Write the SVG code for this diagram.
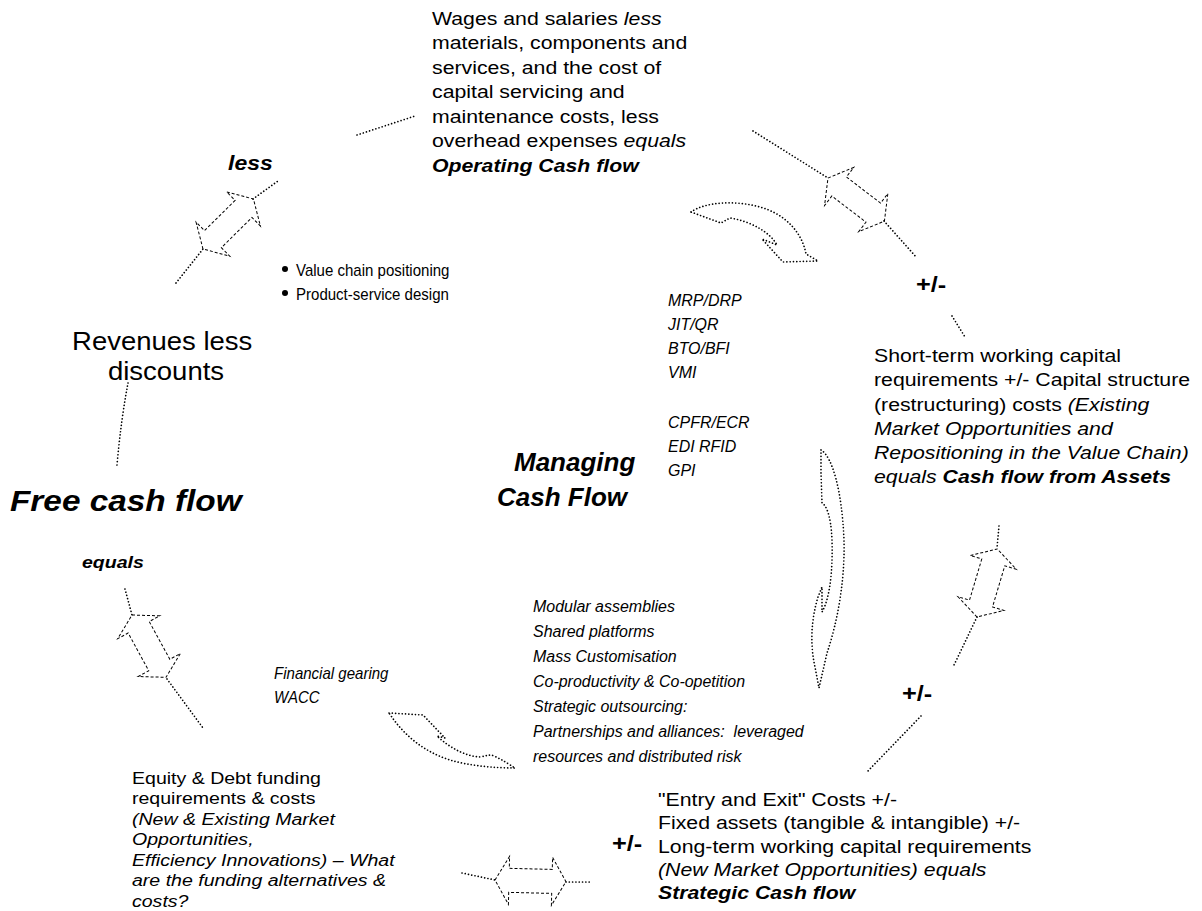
<svg xmlns="http://www.w3.org/2000/svg" width="1202" height="911" viewBox="0 0 1202 911">
  <defs>
    <style>
      .s { font-family: "Liberation Sans", Arial, sans-serif; fill: #000; }
      .i { font-style: italic; }
      .b { font-weight: bold; }
      .dot { fill: none; stroke: #000; stroke-width: 1.7; stroke-linecap: round; stroke-dasharray: 0.01 3.3; }
      .dash { fill: none; stroke: #000; stroke-width: 1; stroke-dasharray: 3 2; }
    </style>
    <!-- double-headed block arrow, tip to tip along +x -->
    <path id="dbl" d="M0,0 L14,-24 L14,-12 L57,-12 L57,-24 L71,0 L57,24 L57,12 L14,12 L14,24 Z"/>
  </defs>
  <rect width="1202" height="911" fill="#fff"/>

  <!-- connectors -->
  <g id="connectors">
    <path class="dot" d="M357,135 L415,116"/>
    <path class="dot" d="M176,283 L203,249"/>
    <path class="dot" d="M253,199 L278,181"/>
    <use href="#dbl" class="dash" transform="translate(203,249) rotate(-44.7)"/>

    <path class="dot" d="M753,131 L828,178"/>
    <use href="#dbl" class="dash" transform="translate(828,178) rotate(37.4)"/>
    <path class="dot" d="M884,221 L917,258"/>
    <path class="dot" d="M952,316 L965,337"/>

    <path class="dot" d="M999,526 L997,548"/>
    <use href="#dbl" class="dash" transform="translate(977,617) rotate(-73.4)"/>
    <path class="dot" d="M977,617 L953,667"/>
    <path class="dot" d="M921,716 L866,773"/>

    <path class="dot" d="M462,873 L495,880"/>
    <use href="#dbl" class="dash" transform="translate(495,880) rotate(1.4)"/>
    <path class="dot" d="M566,882 L590,882"/>

    <path class="dot" d="M128,383 Q121,420 117,465"/>
    <path class="dot" d="M125,589 L132,615"/>
    <use href="#dbl" class="dash" transform="translate(132,615) rotate(61.4)"/>
    <path class="dot" d="M167,679 L203,728"/>

    <!-- curved block arrows -->
    <path class="dot" d="M691,212 C705,202 735,200 760,207 C785,214 802,232 806,254 L818,261 L783,262 L762,239 L777,245 C770,232 750,221 730,218 L721,223 Z"/>
    <path class="dot" d="M821,450 C832,456 842,490 844,540 C845,580 838,620 827,653 L819,688 L815,667 C810,645 811,620 818,597 L822,587 L822,612 C829,600 833,575 832,540 C831,515 826,505 822,503 L821,473 Z"/>
    <path class="dot" d="M389,713 L423,715 L445,738 L437,736 C450,748 465,756 480,757 C486,756 490,754 494,756 C503,760 510,765 515,768 C495,768 470,766 450,760 C425,752 405,737 389,713 Z"/>
  </g>

  <g id="operating">
    <text class="s" font-size="18.5" transform="matrix(1.15 0 0 1 432 25)">
      <tspan x="0" y="0">Wages and salaries <tspan class="i">less</tspan></tspan>
      <tspan x="0" y="24.5">materials, components and</tspan>
      <tspan x="0" y="49">services, and the cost of</tspan>
      <tspan x="0" y="73.5">capital servicing and</tspan>
      <tspan x="0" y="98">maintenance costs, less</tspan>
      <tspan x="0" y="122.5">overhead expenses <tspan class="i">equals</tspan></tspan>
      <tspan x="0" y="147" class="i b">Operating Cash flow</tspan>
    </text>
  </g>

  <g id="less-label">
    <text class="s i b" font-size="20" transform="matrix(1.15 0 0 1 228 170)">less</text>
  </g>

  <g id="positioning">
    <circle cx="285" cy="269" r="3"/>
    <circle cx="285" cy="293" r="3"/>
    <text class="s" font-size="16" transform="matrix(0.94 0 0 1 296 276)">
      <tspan x="0" y="0">Value chain positioning</tspan>
      <tspan x="0" y="24">Product-service design</tspan>
    </text>
  </g>

  <g id="revenues">
    <text class="s" font-size="25" text-anchor="middle" transform="matrix(1.1 0 0 1 166 350)">
      <tspan x="0" y="0">Revenues less</tspan>
      <tspan x="0" y="30">discounts</tspan>
    </text>
  </g>

  <g id="free-cash-flow">
    <text class="s i b" font-size="29" transform="matrix(1.15 0 0 1 10 511)">Free cash flow</text>
    <text class="s i b" font-size="17" transform="matrix(1.15 0 0 1 82 568)">equals</text>
  </g>

  <g id="managing">
    <text class="s i b" font-size="26">
      <tspan x="514" y="471">Managing</tspan>
      <tspan x="497" y="506">Cash Flow</tspan>
    </text>
  </g>

  <g id="techniques">
    <text class="s i" font-size="17" transform="matrix(0.94 0 0 1 668 306)">
      <tspan x="0" y="0">MRP/DRP</tspan>
      <tspan x="0" y="24">JIT/QR</tspan>
      <tspan x="0" y="48">BTO/BFI</tspan>
      <tspan x="0" y="72">VMI</tspan>
      <tspan x="0" y="122">CPFR/ECR</tspan>
      <tspan x="0" y="146">EDI RFID</tspan>
      <tspan x="0" y="170">GPI</tspan>
    </text>
  </g>

  <g id="plus-minus-1">
    <text class="s b" font-size="22" transform="matrix(1.15 0 0 1 916 292)">+/-</text>
  </g>

  <g id="assets">
    <text class="s" font-size="18.5" transform="matrix(1.15 0 0 1 874 362)">
      <tspan x="0" y="0">Short-term working capital</tspan>
      <tspan x="0" y="24.3">requirements +/- Capital structure</tspan>
      <tspan x="0" y="48.6">(restructuring) costs <tspan class="i">(Existing</tspan></tspan>
      <tspan x="0" y="72.9" class="i">Market Opportunities and</tspan>
      <tspan x="0" y="97.2" class="i">Repositioning in the Value Chain)</tspan>
      <tspan x="0" y="121.5"><tspan class="i">equals </tspan><tspan class="i b">Cash flow from Assets</tspan></tspan>
    </text>
  </g>

  <g id="plus-minus-2">
    <text class="s b" font-size="22" transform="matrix(1.15 0 0 1 902 701)">+/-</text>
  </g>

  <g id="modular">
    <text class="s i" font-size="17" xml:space="preserve" transform="matrix(0.94 0 0 1 533 612)"><tspan x="0" y="0">Modular assemblies</tspan><tspan x="0" y="25">Shared platforms</tspan><tspan x="0" y="50">Mass Customisation</tspan><tspan x="0" y="75">Co-productivity &amp; Co-opetition</tspan><tspan x="0" y="100">Strategic outsourcing:</tspan><tspan x="0" y="125">Partnerships and alliances:  leveraged</tspan><tspan x="0" y="150">resources and distributed risk</tspan></text>
  </g>

  <g id="gearing">
    <text class="s i" font-size="16" transform="matrix(0.94 0 0 1 274 679)">
      <tspan x="0" y="0">Financial gearing</tspan>
      <tspan x="0" y="24">WACC</tspan>
    </text>
  </g>

  <g id="funding">
    <text class="s" font-size="17" transform="matrix(1.15 0 0 1 132 784)">
      <tspan x="0" y="0">Equity &amp; Debt funding</tspan>
      <tspan x="0" y="20.5">requirements &amp; costs</tspan>
      <tspan x="0" y="41" class="i">(New &amp; Existing Market</tspan>
      <tspan x="0" y="61.5" class="i">Opportunities,</tspan>
      <tspan x="0" y="82" class="i">Efficiency Innovations) – What</tspan>
      <tspan x="0" y="102.5" class="i">are the funding alternatives &amp;</tspan>
      <tspan x="0" y="123" class="i">costs?</tspan>
    </text>
  </g>

  <g id="plus-minus-3">
    <text class="s b" font-size="22" transform="matrix(1.15 0 0 1 612 851)">+/-</text>
  </g>

  <g id="strategic">
    <text class="s" font-size="18.5" transform="matrix(1.15 0 0 1 658 806)">
      <tspan x="0" y="0">"Entry and Exit" Costs +/-</tspan>
      <tspan x="0" y="23.3">Fixed assets (tangible &amp; intangible) +/-</tspan>
      <tspan x="0" y="46.6">Long-term working capital requirements</tspan>
      <tspan x="0" y="69.9" class="i">(New Market Opportunities) equals</tspan>
      <tspan x="0" y="93.2" class="i b">Strategic Cash flow</tspan>
    </text>
  </g>
</svg>
